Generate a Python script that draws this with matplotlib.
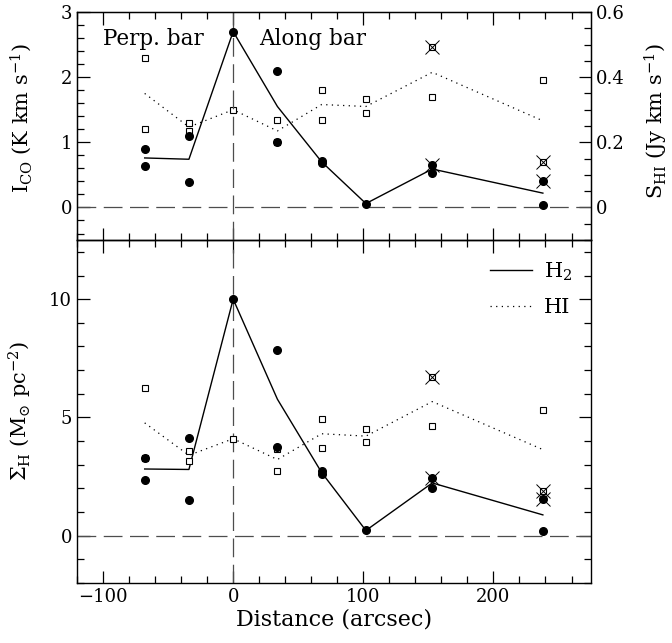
import matplotlib
matplotlib.use('Agg')
import matplotlib.pyplot as plt
from matplotlib.ticker import MultipleLocator, FixedLocator
import numpy as np

plt.rcParams['font.family'] = 'DejaVu Serif'
plt.rcParams['mathtext.fontset'] = 'dejavuserif'

#==========================================Data=========================================
# distance positions (arcsec)
dist = [-68, -34, 0, 34, 68, 102, 153, 238]

# --- top panel: CO integrated intensity (K km/s), filled circles
co_x = [-68, -68, -34, -34, 0, 34, 34, 68, 68, 102, 153, 153, 238, 238]
co_y = [0.89, 0.63, 1.09, 0.39, 2.70, 2.10, 1.00, 0.72, 0.69, 0.06, 0.65, 0.53, 0.40, 0.04]
co_mean = [0.76, 0.74, 2.70, 1.55, 0.70, 0.06, 0.59, 0.22]

# --- top panel: HI flux (Jy km/s), open squares
hi_x = [-68, -68, -34, -34, 0, 34, 34, 68, 68, 102, 102, 153, 153, 238, 238]
hi_y = [0.46, 0.24, 0.26, 0.234, 0.30, 0.27, 0.20, 0.36, 0.27, 0.332, 0.29, 0.492, 0.34, 0.39, 0.14]
hi_mean = [0.35, 0.247, 0.30, 0.235, 0.316, 0.31, 0.415, 0.266]

# flagged points (top)
flag_co_x = [153, 238]
flag_co_y = [0.65, 0.40]
flag_hi_x = [153, 238]
flag_hi_y = [0.492, 0.14]

# --- bottom panel: surface densities (Msun/pc^2)
sh2_x = [-68, -68, -34, -34, 0, 34, 34, 68, 68, 102, 153, 153, 238, 238]
sh2_y = [3.29, 2.37, 4.11, 1.50, 10.0, 7.85, 3.74, 2.72, 2.62, 0.22, 2.43, 2.03, 1.55, 0.18]
sh2_mean = [2.82, 2.80, 10.0, 5.77, 2.67, 0.22, 2.23, 0.88]

shi_x = [-68, -68, -34, -34, 0, 34, 34, 68, 68, 102, 102, 153, 153, 238, 238]
shi_y = [6.26, 3.28, 3.56, 3.15, 4.10, 3.67, 2.72, 4.92, 3.69, 4.49, 3.95, 6.69, 4.63, 5.31, 1.91]
shi_mean = [4.77, 3.40, 4.10, 3.22, 4.31, 4.21, 5.67, 3.64]

flag_sh2_x = [153, 238]
flag_sh2_y = [2.43, 1.55]
flag_shi_x = [153, 238]
flag_shi_y = [6.69, 1.91]

#==========================================Figure=========================================
fig = plt.figure(figsize=(6.72, 6.43), dpi=100)
ax_top = fig.add_axes([0.1146, 0.6267, 0.7649, 0.3546])
ax_bot = fig.add_axes([0.1146, 0.0933, 0.7649, 0.5334], sharex=ax_top)
ax_hi = ax_top.twinx()

fs = 13      # tick labels
fl = 15      # axis labels / annotations
dash_style = dict(color='0.3', lw=0.9, dashes=(15, 6))
dot_style = dict(color='black', lw=0.9, linestyle=(0, (1, 3.5)))
circ_style = dict(ls='none', marker='o', ms=5.5, mfc='black', mec='black', zorder=5)
sq_style = dict(ls='none', marker='s', ms=4, mfc='white', mec='black', mew=0.8, zorder=4)
flag_style = dict(ls='none', marker='x', ms=10, mec='black', mew=0.7, zorder=6)

# top panel
ax_top.axhline(0, **dash_style)
ax_top.axvline(0, **dash_style)
ax_top.plot(dist, co_mean, color='black', lw=1.0, zorder=3)
ax_hi.plot(dist, hi_mean, **dot_style)
ax_hi.plot(hi_x, hi_y, **sq_style)
ax_top.plot(co_x, co_y, **circ_style)
ax_top.plot(flag_co_x, flag_co_y, **flag_style)
ax_hi.plot(flag_hi_x, flag_hi_y, **flag_style)
ax_top.set_zorder(ax_hi.get_zorder() + 1)
ax_top.patch.set_visible(False)

ax_top.text(-100, 2.49, 'Perp. bar', fontsize=fl + 0.5, va='baseline')
ax_top.text(20, 2.49, 'Along bar', fontsize=fl + 0.5, va='baseline')

ax_top.set_xlim(-120, 275)
ax_top.set_ylim(-0.5, 3)
ax_hi.set_ylim(-0.1, 0.6)

# bottom panel
ax_bot.axhline(0, **dash_style)
ax_bot.axvline(0, **dash_style)
ax_bot.plot(dist, sh2_mean, color='black', lw=1.0, zorder=3, label='H$_2$')
ax_bot.plot(dist, shi_mean, label='HI', **dot_style)
ax_bot.plot(shi_x, shi_y, **sq_style)
ax_bot.plot(sh2_x, sh2_y, **circ_style)
ax_bot.plot(flag_sh2_x, flag_sh2_y, **flag_style)
ax_bot.plot(flag_shi_x, flag_shi_y, **flag_style)
ax_bot.set_ylim(-2, 12.5)

ax_bot.legend(loc='upper right', frameon=False, fontsize=fl,
              handlelength=2.0, handletextpad=0.6, labelspacing=0.75,
              bbox_to_anchor=(1.0, 0.995))

#==========================================Ticks & labels=========================================
for a in (ax_top, ax_bot, ax_hi):
    a.tick_params(which='both', direction='in', width=0.9, labelsize=fs)
    a.tick_params(which='major', length=9)
    a.tick_params(which='minor', length=5)

ax_top.xaxis.set_major_locator(MultipleLocator(100))
ax_top.xaxis.set_minor_locator(MultipleLocator(20))
ax_top.yaxis.set_major_locator(MultipleLocator(1))
ax_top.yaxis.set_minor_locator(MultipleLocator(0.2))
ax_hi.yaxis.set_major_locator(FixedLocator([0, 0.2, 0.4, 0.6]))
ax_hi.yaxis.set_minor_locator(MultipleLocator(0.05))
ax_bot.yaxis.set_major_locator(MultipleLocator(5))
ax_bot.yaxis.set_minor_locator(MultipleLocator(1))

ax_top.tick_params(which='both', top=True, bottom=True, right=False, labelbottom=False)
ax_hi.tick_params(which='both', top=False, bottom=False)
ax_bot.tick_params(which='both', top=True, right=True, bottom=True)

ax_top.yaxis.set_major_formatter(plt.FuncFormatter(lambda v, p: f'{v:g}'))
ax_hi.yaxis.set_major_formatter(plt.FuncFormatter(lambda v, p: f'{v:g}'))

ax_top.set_ylabel(r'I$_{\rm CO}$ (K km s$^{-1}$)', fontsize=fl)
ax_hi.set_ylabel(r'S$_{\rm HI}$ (Jy km s$^{-1}$)', fontsize=fl, rotation=90)
ax_bot.set_ylabel(r'$\Sigma_{\rm H}$ (M$_{\odot}$ pc$^{-2}$)', fontsize=fl)
ax_bot.set_xlabel('Distance (arcsec)', fontsize=fl + 1, labelpad=2)
ax_top.yaxis.set_label_coords(-0.083, 0.535)
ax_bot.yaxis.set_label_coords(-0.083, 0.5)
ax_hi.yaxis.set_label_coords(1.10, 0.52)

for a in (ax_top, ax_bot):
    for s in a.spines.values():
        s.set_linewidth(1.0)

fig.savefig('out.png', dpi=100)
